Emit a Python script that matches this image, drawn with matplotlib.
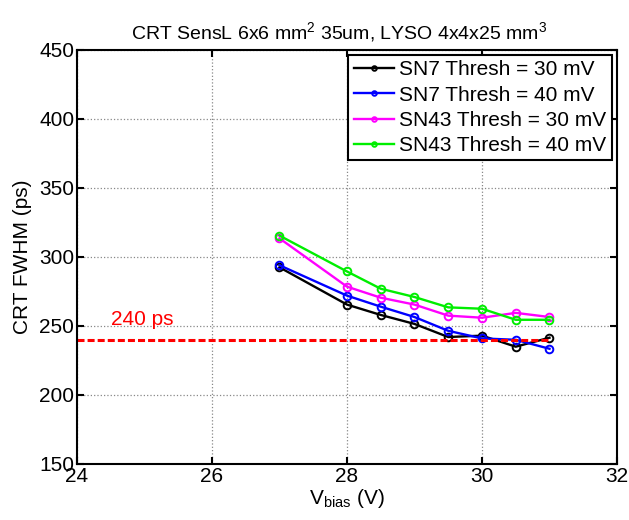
"""
CRT vs tension de polarisation - SensL 6x6 mm2 35um, LYSO 4x4x25 mm3
"""

import numpy as np
import matplotlib
matplotlib.use("Agg")
import matplotlib.pyplot as plt

plt.rcParams["font.family"] = ["Liberation Sans", "DejaVu Sans"]
plt.rcParams["mathtext.default"] = "regular"

# =============================
# Données
# =============================
vbias = [27, 28, 28.5, 29, 29.5, 30, 30.5, 31]

sn7_30mV = [292.5, 265.5, 258, 251.5, 242, 243, 235, 241.5]
sn7_40mV = [294, 272, 264, 256.5, 246.5, 241, 240, 233.5]
sn43_30mV = [313.5, 278.5, 270.5, 265.5, 257.5, 256, 259.5, 256.5]
sn43_40mV = [315.5, 289.5, 277, 271, 263.5, 262.5, 254.5, 254.5]

labels = ["SN7 Thresh = 30 mV", "SN7 Thresh = 40 mV",
          "SN43 Thresh = 30 mV", "SN43 Thresh = 40 mV"]
colors = ["black", "blue", "magenta", "#00ee00"]

threshold_ps = 240
threshold_x = [24, 31]

# =============================
# Figure
# =============================
fig = plt.figure(figsize=(6.29, 5.2), dpi=100)
ax = fig.add_axes([0.1224, 0.1077, 0.8585, 0.7962])

series = [sn7_30mV, sn7_40mV, sn43_30mV, sn43_40mV]
for vals, lab, col in zip(series, labels, colors):
    ax.plot(vbias, vals, color=col, lw=1.7, marker="o", ms=5.5,
            mfc="none", mew=1.4, label=lab)

ax.plot(threshold_x, [threshold_ps, threshold_ps], color="red", lw=2.2,
        ls=(0, (2.3, 1.0)))
ax.text(24.5, 248, f"{threshold_ps} ps", color="red", fontsize=15,
        ha="left", va="bottom")

ax.set_xlim(24, 32)
ax.set_ylim(150, 450)
ax.set_xticks(np.arange(24, 33, 2))
ax.set_yticks(np.arange(150, 451, 50))
ax.tick_params(direction="in", length=5, width=1.5, labelsize=15,
               top=True, right=True, pad=2)
for s in ax.spines.values():
    s.set_linewidth(1.5)
ax.grid(True, color="#888888", ls=":", lw=0.9)

ax.set_xlabel("V$_{bias}$ (V)", fontsize=15, labelpad=1)
ax.set_ylabel("CRT FWHM (ps)", fontsize=15, labelpad=5)
ax.set_title("CRT SensL 6x6 mm$^2$ 35um, LYSO 4x4x25 mm$^3$", fontsize=14,
             pad=8, x=0.485)

leg = ax.legend(loc="upper right", fontsize=15, handlelength=1.95,
                handletextpad=0.25, labelspacing=0.3, borderpad=0.25,
                borderaxespad=0.25, fancybox=False, framealpha=1,
                edgecolor="black", markerscale=0.6)
leg.get_frame().set_linewidth(1.5)

fig.savefig("out.png", dpi=100)
